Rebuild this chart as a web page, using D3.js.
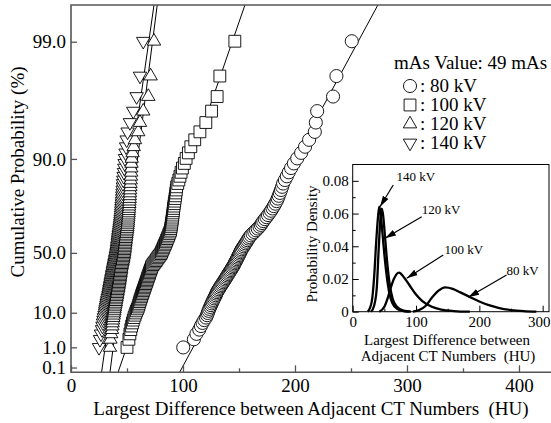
<!DOCTYPE html>
<html>
<head>
<meta charset="utf-8">
<script src="https://cdn.jsdelivr.net/npm/d3@7"></script>
<style>
body { margin: 0; background: #fff; }
text { font-family: "Liberation Serif", "Times New Roman", serif; fill: #000; }
</style>
</head>
<body>
<div id="chart"></div>
<script>
// sorted sample values (HU), 100 per tube voltage
const kv80 = [
 100.2,109.7,112.0,114.5,116.0,117.5,119.0,120.5,121.5,122.1,
 122.8,123.5,124.3,125.0,125.7,126.4,127.1,127.8,128.5,129.2,
 129.8,130.3,131.1,131.9,132.7,133.5,134.3,135.1,135.9,136.7,
 137.5,138.2,139.0,139.7,140.5,141.2,142.0,142.7,143.5,144.2,
 145.0,145.6,146.2,146.8,147.5,148.1,148.7,149.3,150.0,150.6,
 151.2,151.8,152.4,153.3,154.2,155.0,155.9,156.8,157.6,158.5,
 159.4,160.6,162.1,163.7,165.2,166.7,168.3,169.5,170.6,171.7,
 173.1,174.5,175.9,177.3,178.6,179.9,181.1,182.4,183.6,184.6,
 185.5,186.5,187.5,188.5,189.4,191.0,192.7,194.4,196.5,199.0,
 202.0,205.5,209.0,212.6,217.7,218.6,219.8,234.0,237.0,250.7];
const kv100 = [
 50.0,51.7,52.6,53.4,54.1,54.9,55.6,56.3,57.1,57.8,
 58.5,59.3,60.0,60.5,60.9,61.4,61.8,62.3,62.8,63.2,
 63.7,64.2,64.6,65.1,65.5,66.0,66.4,66.8,67.3,67.7,
 68.1,68.5,68.9,69.4,69.8,70.2,70.6,71.0,71.5,71.9,
 72.3,73.2,74.1,75.0,75.9,76.7,77.6,78.5,79.4,80.3,
 80.9,81.4,82.0,82.6,83.1,83.7,84.3,84.9,85.4,86.0,
 86.6,87.2,87.7,88.3,88.9,89.1,89.4,89.6,89.9,90.1,
 90.4,90.6,90.9,91.1,91.4,91.6,91.9,92.2,92.6,92.9,
 93.3,93.6,94.0,94.3,95.3,96.3,97.3,98.3,99.5,101.2,
 102.8,104.8,107.0,110.5,115.1,120.4,125.5,130.5,132.9,146.3];
const kv120 = [
 34.8,35.2,35.9,36.6,36.9,37.2,37.5,37.8,38.1,38.4,
 38.7,38.9,39.2,39.4,39.7,40.0,40.2,40.5,40.7,41.0,
 41.2,41.4,41.6,41.8,42.1,42.3,42.5,42.7,42.9,43.1,
 43.3,43.5,43.6,43.8,44.0,44.2,44.3,44.5,44.7,44.8,
 45.0,45.3,45.5,45.8,46.0,46.3,46.5,46.8,47.0,47.3,
 47.5,47.6,47.8,48.0,48.1,48.3,48.4,48.6,48.8,48.9,
 49.1,49.3,49.5,49.7,49.9,50.1,50.3,50.5,50.7,50.9,
 51.0,51.2,51.3,51.5,51.6,51.8,51.9,52.1,52.2,52.4,
 52.5,52.7,52.8,53.0,53.1,53.3,53.5,53.7,53.8,54.0,
 54.2,55.0,56.0,57.1,60.0,61.6,64.5,69.0,71.1,74.1];
const kv140 = [
 25.0,25.9,26.8,27.7,28.1,28.6,29.0,29.4,29.9,30.3,
 30.6,30.9,31.3,31.6,31.9,32.2,32.5,32.9,33.2,33.5,
 33.7,34.0,34.2,34.4,34.7,34.9,35.2,35.4,35.6,35.9,
 36.1,36.3,36.6,36.8,37.0,37.3,37.5,37.7,37.9,38.2,
 38.4,38.6,38.9,39.1,39.4,39.6,39.9,40.1,40.4,40.6,
 40.8,40.9,41.1,41.3,41.4,41.6,41.8,41.9,42.1,42.2,
 42.4,42.6,42.8,43.0,43.2,43.4,43.6,43.8,44.0,44.2,
 44.3,44.5,44.6,44.8,44.9,45.1,45.2,45.4,45.5,45.7,
 45.8,46.0,46.1,46.3,46.4,46.7,47.0,47.3,47.6,47.9,
 48.2,48.7,49.2,49.7,50.5,52.6,55.6,58.6,61.6,64.5];

const seriesNames = ["80 kV", "100 kV", "120 kV", "140 kV"];
const seriesData = [kv80, kv100, kv120, kv140];
const seriesSymbols = ["circle", "square", "up", "down"];

// fitted straight lines: HU where each line meets p = 0.05 % and p = 99.52 %
const fitProbs = [0.05, 99.52];
const fitEnds = [[97.0, 274.0], [42.0, 155.3], [34.8, 77.0], [27.3, 74.1]];

const probTicks = [0.1, 1.0, 10.0, 50.0, 90.0, 99.0];
const xTicks = [0, 100, 200, 300, 400];
const xMinor = [50, 150, 250, 350];

// inset: probability density curves [HU, density]
const pdf80 = [[95,0],[105,0.001],[115,0.0035],[125,0.0085],[135,0.0127],[146,0.0149],[158,0.0140],[170,0.0118],[185,0.0090],[200,0.0062],[215,0.0040],[230,0.0024],[250,0.0010],[270,0.0003],[290,0]];
const pdf100 = [[42,0],[50,0.003],[55,0.008],[60,0.0145],[65,0.020],[73,0.0239],[82,0.0205],[90,0.016],[100,0.0105],[110,0.0065],[125,0.003],[140,0.0013],[160,0.0004],[185,0]];
const pdf120 = [[29,0],[34,0.004],[38,0.0145],[41,0.038],[44,0.058],[46,0.063],[48,0.059],[51,0.046],[54,0.032],[58,0.018],[63,0.008],[70,0.003],[80,0.0006],[92,0]];
const pdf140 = [[24,0],[30,0.006],[34,0.022],[37,0.042],[40,0.058],[42,0.0642],[44,0.060],[47,0.048],[50,0.035],[54,0.021],[58,0.011],[63,0.005],[70,0.0018],[80,0.0004],[90,0]];
const pdfCurves = [pdf80, pdf100, pdf120, pdf140];

const insetXTicks = [0, 100, 200, 300];
const insetXMinor = [50, 150, 250];
const insetYTicks = [0, 0.02, 0.04, 0.06, 0.08];
const insetYMinor = [0.01, 0.03, 0.05, 0.07];

// arrow notes in the inset: label position, arrow tail, arrow tip (data units)
const notes = [
  { text: "140 kV", at: [69, 0.0801], from: [64, 0.0775], to: [43.1, 0.0642] },
  { text: "120 kV", at: [109, 0.0598], from: [109, 0.0581], to: [51.0, 0.0449] },
  { text: "100 kV", at: [145, 0.0353], from: [143, 0.0347], to: [85.3, 0.0204] },
  { text: "80 kV",  at: [243, 0.0225], from: [243, 0.0224], to: [182.5, 0.0088] }
];

const FONT = '"Liberation Serif", "Times New Roman", serif';
const W = 551, H = 423;
const svg = d3.select("#chart").append("svg")
    .attr("width", W).attr("height", H);

const gumbel = p => -Math.log(-Math.log(p / 100));

const x = d3.scaleLinear().domain([0, 428.6]).range([71, 551]);
const y = d3.scaleLinear().domain([gumbel(0.05), gumbel(99.52)]).range([372.3, 5]);

const defs = svg.append("defs");
defs.append("clipPath").attr("id", "plotclip")
  .append("rect").attr("x", 71).attr("y", 5).attr("width", 480).attr("height", 367.3);
defs.append("marker")
    .attr("id", "arrow").attr("markerUnits", "userSpaceOnUse")
    .attr("viewBox", "0 -4 11 8").attr("refX", 11).attr("refY", 0)
    .attr("markerWidth", 11).attr("markerHeight", 8).attr("orient", "auto")
  .append("path").attr("d", "M0,-3.2L11,0L0,3.2Z").attr("fill", "#000");

// fitted lines
const plotArea = svg.append("g").attr("clip-path", "url(#plotclip)");
fitEnds.forEach(e => {
  plotArea.append("line")
      .attr("x1", x(e[0])).attr("y1", y(gumbel(fitProbs[0])))
      .attr("x2", x(e[1])).attr("y2", y(gumbel(fitProbs[1])))
      .attr("stroke", "#000").attr("stroke-width", 1);
});

function symbolPath(kind) {
  if (kind === "circle") return d3.symbol(d3.symbolCircle, 135)();
  if (kind === "square") return d3.symbol(d3.symbolSquare, 140)();
  return d3.symbol(d3.symbolTriangle, 78)();
}

// points, plotted at rank i/(n+1)
[0, 1, 3, 2].forEach(k => {
  const vals = seriesData[k];
  const n = vals.length;
  plotArea.append("g").selectAll("path")
    .data(vals)
    .enter().append("path")
      .attr("d", symbolPath(seriesSymbols[k]))
      .attr("transform", (d, i) => `translate(${x(d)},${y(gumbel(100 * (i + 1) / (n + 1)))})` +
            (seriesSymbols[k] === "down" ? " rotate(180)" : ""))
      .attr("fill", "#fff").attr("stroke", "#000").attr("stroke-width", 0.9);
});

// axes
const axisColor = "#555";
const yAxis = svg.append("g").attr("transform", "translate(71,0)")
    .call(d3.axisLeft(y).tickValues(probTicks.map(gumbel)).tickSize(-6).tickPadding(5)
      .tickFormat((d, i) => probTicks[i].toFixed(1)));
const xAxis = svg.append("g").attr("transform", "translate(0,372.3)")
    .call(d3.axisBottom(x).tickValues(xTicks).tickSize(-7).tickPadding(4));
svg.append("g").attr("transform", "translate(0,372.3)")
    .call(d3.axisBottom(x).tickValues(xMinor).tickSize(-4).tickFormat(""));
svg.selectAll(".domain").remove();
svg.selectAll(".tick line").attr("stroke", axisColor).attr("stroke-width", 1.3);
yAxis.attr("font-family", FONT).selectAll("text").style("font-size", "19px");
xAxis.attr("font-family", FONT).selectAll("text").style("font-size", "19px").attr("dy", "0.85em");

// frame
svg.append("path")
    .attr("d", `M551,5H71V372.3H551`)
    .attr("fill", "none").attr("stroke", axisColor).attr("stroke-width", 1.6);

// axis titles
svg.append("text")
    .attr("transform", "translate(24,172) rotate(-90)")
    .attr("text-anchor", "middle").style("font-size", "19px")
    .text("Cumulative Probability (%)");
svg.append("text")
    .attr("x", 311).attr("y", 415)
    .attr("text-anchor", "middle").style("font-size", "19px")
    .text("Largest Difference between Adjacent CT Numbers\u00a0\u00a0(HU)");

// legend
const legend = svg.append("g");
legend.append("text").attr("x", 394).attr("y", 69).style("font-size", "19px")
    .text("mAs Value: 49 mAs");
seriesNames.forEach((name, k) => {
  const ly = 86 + k * 19;
  legend.append("path")
      .attr("d", symbolPath(seriesSymbols[k]))
      .attr("transform", `translate(410,${ly})` + (seriesSymbols[k] === "down" ? " rotate(180)" : ""))
      .attr("fill", "#fff").attr("stroke", "#000").attr("stroke-width", 0.9);
  legend.append("text").attr("x", 420).attr("y", ly + 6).style("font-size", "19px")
      .text(": " + name);
});

// inset
const ix = d3.scaleLinear().domain([0, 310]).range([352.7, 549]);
const iy = d3.scaleLinear().domain([0, 0.09]).range([311.7, 164.5]);
const inset = svg.append("g");
inset.append("rect")
    .attr("x", 352.7).attr("y", 164.5).attr("width", 549 - 352.7).attr("height", 311.7 - 164.5)
    .attr("fill", "#fff").attr("stroke", "#000").attr("stroke-width", 1);

const ixAxis = inset.append("g").attr("transform", "translate(0,311.7)")
    .call(d3.axisBottom(ix).tickValues(insetXTicks).tickSize(-6).tickPadding(3).tickFormat(d3.format("d")));
inset.append("g").attr("transform", "translate(0,311.7)")
    .call(d3.axisBottom(ix).tickValues(insetXMinor).tickSize(-3).tickFormat(""));
const iyAxis = inset.append("g").attr("transform", "translate(352.7,0)")
    .call(d3.axisLeft(iy).tickValues(insetYTicks).tickSize(-6).tickPadding(4)
      .tickFormat(d => d === 0 ? "0" : d3.format(".2f")(d)));
inset.append("g").attr("transform", "translate(352.7,0)")
    .call(d3.axisLeft(iy).tickValues(insetYMinor).tickSize(-3).tickFormat(""));
inset.selectAll(".domain").remove();
inset.selectAll(".tick line").attr("stroke", "#000").attr("stroke-width", 1);
ixAxis.attr("font-family", FONT).selectAll("text").style("font-size", "15px").attr("dy", "0.8em")
    .attr("dx", d => d === 300 ? "-4" : "0");
iyAxis.attr("font-family", FONT).selectAll("text").style("font-size", "15px");

const curve = d3.line().x(d => ix(d[0])).y(d => iy(d[1])).curve(d3.curveMonotoneX);
pdfCurves.forEach(c => {
  inset.append("path").attr("d", curve(c))
      .attr("fill", "none").attr("stroke", "#000").attr("stroke-width", 2.3);
});

notes.forEach(nt => {
  inset.append("line")
      .attr("x1", ix(nt.from[0])).attr("y1", iy(nt.from[1]))
      .attr("x2", ix(nt.to[0])).attr("y2", iy(nt.to[1]))
      .attr("stroke", "#000").attr("stroke-width", 1.2)
      .attr("marker-end", "url(#arrow)");
  inset.append("text").attr("x", ix(nt.at[0])).attr("y", iy(nt.at[1]))
      .style("font-size", "13px").text(nt.text);
});

inset.append("text")
    .attr("transform", "translate(317,244) rotate(-90)")
    .attr("text-anchor", "middle").style("font-size", "15px")
    .text("Probability Density");
inset.append("text").attr("x", 447).attr("y", 345)
    .attr("text-anchor", "middle").style("font-size", "15px")
    .text("Largest Difference between");
inset.append("text").attr("x", 448).attr("y", 361)
    .attr("text-anchor", "middle").style("font-size", "15px")
    .text("Adjacent CT Numbers\u00a0\u00a0(HU)");
</script>
</body>
</html>
